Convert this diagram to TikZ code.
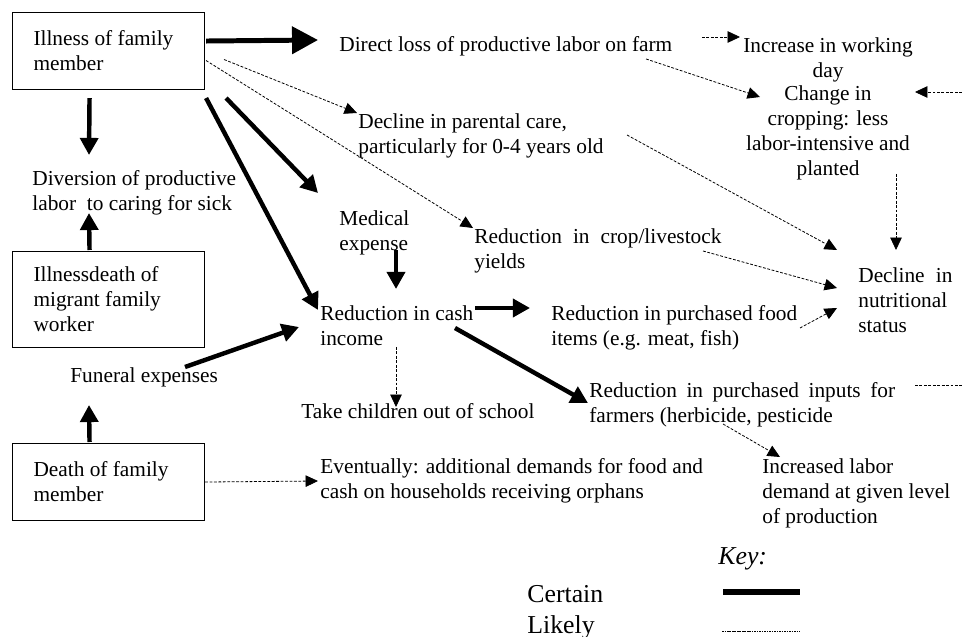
\documentclass[tikz,border=0pt]{standalone}
\usepackage{fontspec}
\setmainfont{Liberation Serif}
\usepackage{tikz}
\usetikzlibrary{arrows.meta,calc}

\begin{document}
\begin{tikzpicture}[
  x=0.5625pt, y=-0.5625pt,
  every node/.style={font=\fontsize{12}{14.06}\selectfont},
  box/.style={draw, line width=0.6pt, anchor=north west, inner sep=0pt,
    minimum width=108pt, minimum height=43.3pt, text width=84.4pt, align=flush left},
  txt/.style={anchor=north west, inner sep=0pt, align=left},
  ctxt/.style={anchor=north, inner sep=0pt, align=center},
  certain/.style={line width=2.5pt, -{Triangle[length=9.6pt,width=10pt]}},
  certainbig/.style={line width=2.8pt, -{Triangle[length=14.6pt,width=15pt]}},
  likely/.style={line width=0.45pt, dash pattern=on 1.6pt off 0.9pt,
    -{Triangle[length=7pt,width=6.5pt]}},
  keyfont/.style={font=\fontsize{14.5}{16.9}\selectfont}
  ]
\useasboundingbox (0,0) rectangle (962,637);

% causes
\node[box] (illness) at (12,12) {Illness of family\\member};
\node[box, minimum height=54pt] (migrant) at (12,251) {Illnessdeath of\\migrant family\\worker};
\node[box] (death) at (12,443) {Death of family\\member};

% effects
\node[txt] (diversion) at (32,170) {Diversion of productive\\labor~ to caring for sick};
\node[txt] (direct) at (339,36) {Direct loss of productive labor on farm};
\node[ctxt] (increase) at (828,37) {Increase in working\\day};
\node[ctxt] (change) at (828,85) {Change in\\cropping: less\\labor-intensive and\\planted};
\node[txt] (parental) at (358,113) {Decline in parental care,\\particularly for 0-4 years old};
\node[txt] (medical) at (339,210) {Medical\\expense};
\node[txt] (crop) at (474,228) {\makebox[139pt][s]{Reduction in crop/livestock}\\yields};
\node[txt] (nutrition) at (858,267) {\makebox[52.9pt][s]{Decline in}\\nutritional\\status};
\node[txt] (cash) at (320,305) {Reduction in cash\\income};
\node[txt] (food) at (551,305) {Reduction in purchased food\\items (e.g. meat, fish)};
\node[txt] (funeral) at (70,367) {Funeral expenses};
\node[txt] (children) at (301,403) {Take children out of school};
\node[txt] (inputs) at (589,382) {\makebox[172pt][s]{Reduction in purchased inputs for}\\farmers (herbicide, pesticide};
\node[txt] (eventually) at (320,458) {Eventually: additional demands for food and\\cash on households receiving orphans};
\node[txt] (labor) at (762,458) {Increased labor\\demand at given level\\of production};

\coordinate (cropedge) at (962,92);
\coordinate (inputedge) at (962,385);

% certain links
\draw[certainbig] ($(illness.east)+(1,-10)$) -- ($(direct.north west)+(-21,4)$);
\draw[certain] ($(illness.south)+(-19,8)$) -- ($(diversion.north west)+(57,-15)$);
\draw[certain] ($(migrant.north)+(-19,-1)$) -- ($(diversion.north west)+(57,43)$);
\draw[certain] ($(death.north)+(-19,-1)$) -- ($(funeral.north west)+(19,38)$);
\draw[certain] ($(illness.south east)+(1,8)$) -- ($(cash.north west)+(-2,5)$);
\draw[certain] ($(illness.south east)+(21,8)$) -- ($(medical.north west)+(-21,-17)$);
\draw[certain] ($(medical.north west)+(57,40)$) -- ($(cash.north west)+(76,-16)$);
\draw[certain] ($(funeral.north west)+(115,0)$) -- ($(cash.north west)+(-21,22)$);
\draw[certain] ($(cash.north west)+(155,3)$) -- ($(food.north west)+(-21,3)$);
\draw[certain] ($(cash.north west)+(135,23)$) -- ($(inputs.north west)+(-1,21)$);

% likely links
\draw[likely] ($(illness.east)+(1,9.5)$) -- ($(crop.north west)+(-1,0)$);
\draw[likely] ($(illness.east)+(19,8.5)$) -- ($(parental.north west)+(-1,0)$);
\draw[likely] ($(direct.north west)+(363,1)$) -- ($(increase.north)+(-88,0)$);
\draw[likely] ($(direct.north west)+(307,23)$) -- ($(change.north)+(-68,12)$);
\draw[likely] (cropedge) -- ($(change.north)+(87,7)$);
\draw[likely] ($(parental.north west)+(269,22)$) -- ($(nutrition.north west)+(-21,-17)$);
\draw[likely] ($(change.north)+(68,89)$) -- ($(nutrition.north west)+(38,-17)$);
\draw[likely] ($(crop.north west)+(229,23)$) -- ($(nutrition.north west)+(-21,21)$);
\draw[likely] ($(food.north west)+(249,23)$) -- ($(nutrition.north west)+(-21,41)$);
\draw[likely] ($(cash.north west)+(76,42)$) -- ($(children.north west)+(95,4)$);
\draw[likely] ($(inputs.north west)+(134,42)$) -- ($(labor.north west)+(18,-1)$);
\draw[likely, -] ($(inputs.north west)+(326,3)$) -- (inputedge);
\draw[likely] (death.east) -- ($(eventually.north west)+(-2,23)$);

% key
\node[txt, keyfont] (key) at (718,547) {\itshape Key:};
\node[txt, keyfont] (certainlbl) at (527,585) {Certain};
\node[txt, keyfont] (likelylbl) at (527,615) {Likely};
\draw[line width=3.2pt] ($(key.north west)+(5,45)$) -- ++(77,0);
\draw[line width=0.4pt, dash pattern=on 0.9pt off 0.5pt] ($(key.north west)+(4,84)$) -- ++(78,0);

\end{tikzpicture}
\end{document}
